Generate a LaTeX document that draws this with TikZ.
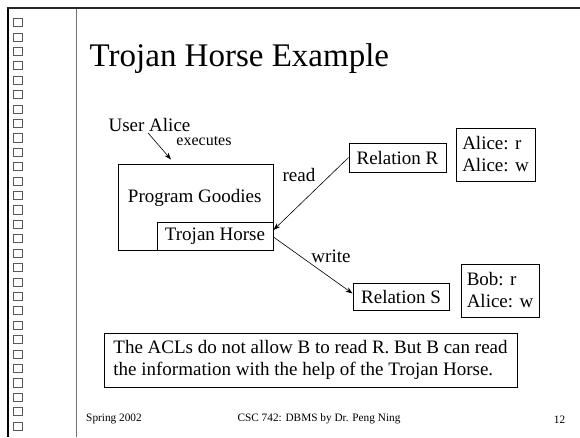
\documentclass[tikz,border=0pt]{standalone}
\usepackage{fontspec}
\setmainfont{Liberation Serif}
\usetikzlibrary{arrows.meta}
\begin{document}
\begin{tikzpicture}[x=1pt,y=-1pt,
  body/.style={font=\fontsize{19}{22}\selectfont},
  boxed/.style={draw=black,line width=0.9pt,inner sep=0pt,body},
  foot/.style={font=\fontsize{11.3}{13}\selectfont},
  arr/.style={-{Stealth[length=7pt,width=5pt]},line width=0.6pt},
  sq/.style={draw=black!65,line width=0.7pt}]
\useasboundingbox[fill=white] (0,0) rectangle (580,437);
% frame
\draw[line width=2pt,black] (7.7,7) -- (7.7,437);
\draw[line width=2pt,black!85] (6.7,7.9) -- (580,7.9);
\draw[line width=1.2pt,black!55] (76.6,8.9) -- (76.6,437);
\foreach \i in {0,...,28}{
  \draw[sq] (12.9,{18.5+14.41*\i}) rectangle (22,{26.6+14.41*\i});
}
% title
\node[anchor=base west,inner sep=0pt,font=\fontsize{33}{38}\selectfont] (title) at (89.5,66.7) {Trojan Horse Example};
% nodes
\node[body,inner sep=0pt] (ua) at (149.5,125) {User Alice};
\node[inner sep=0pt,font=\fontsize{16}{18}\selectfont] (ex) at (204,140.7) {executes};
\node[boxed,minimum width=155pt,minimum height=86pt] (pg) at (195.5,207) {};
\node[body,inner sep=0pt] (pgl) at (194.7,198) {Program Goodies};
\node[boxed,fill=white,minimum width=116pt,minimum height=28pt] (th) at (215,236) {Trojan Horse};
\node[boxed,minimum width=97pt,minimum height=29pt] (rr) at (397.5,157.5) {Relation R};
\node[boxed,minimum width=79pt,minimum height=53pt,align=left] (acl1) at (495.5,154.5) {Alice: r\\Alice: w};
\node[boxed,minimum width=96pt,minimum height=27pt] (rs) at (401,296.5) {Relation S};
\node[boxed,minimum width=78pt,minimum height=53pt,align=left] (acl2) at (500,290.5) {Bob: r\\Alice: w};
\node[boxed,minimum width=413pt,minimum height=54pt,align=left] (note) at (310.5,360) {The ACLs do not allow B to read R. But B can read\\the information with the help of the Trojan Horse.};
\node[body,inner sep=0pt] (rd) at (299,175) {read};
\node[body,inner sep=0pt] (wr) at (331,256.7) {write};
% connectors
\coordinate (exe) at (171,159.5);
\draw[arr] ([xshift=-1.5pt,yshift=-1pt]ua.south) -- (exe);
\draw[arr] (rr.west) -- ([yshift=6pt]th.east);
\draw[arr] ([yshift=-1pt]th.east) -- ([yshift=3pt]rs.west);
% footer
\node[foot,inner sep=0pt] (f1) at (114,419.3) {Spring 2002};
\node[foot,inner sep=0pt] (f2) at (319,418.5) {CSC 742: DBMS by Dr. Peng Ning};
\node[foot,inner sep=0pt] (f3) at (559.5,419.3) {12};
\end{tikzpicture}
\end{document}
